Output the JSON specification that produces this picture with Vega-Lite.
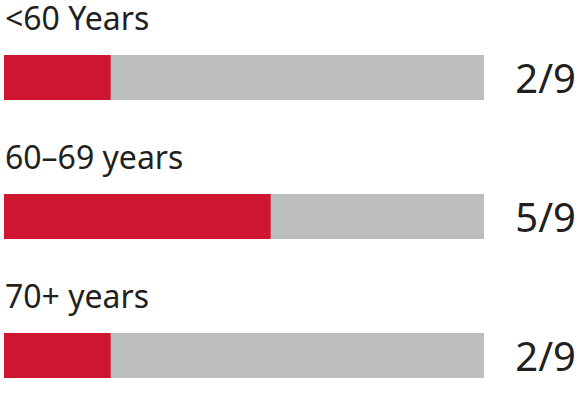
{
  "$schema": "https://vega.github.io/schema/vega-lite/v6.json",
  "width": 580,
  "height": 395,
  "autosize": "none",
  "padding": 0,
  "background": "white",
  "config": {"view": {"stroke": null}},
  "data": {"values": [
    {"group": "<60 Years", "value": 2, "total": 9, "fraction": "2/9"},
    {"group": "60–69 years", "value": 5, "total": 9, "fraction": "5/9"},
    {"group": "70+ years", "value": 2, "total": 9, "fraction": "2/9"}
  ]},
  "encoding": {
    "y": {"field": "group", "type": "nominal", "sort": null,
      "scale": {"range": [55, 378], "paddingInner": 0.676, "paddingOuter": 0},
      "axis": null}
  },
  "layer": [
    {"mark": {"type": "bar", "color": "#BCBDBF"},
     "encoding": {
       "x": {"field": "total", "type": "quantitative", "scale": {"domain": [0, 9], "range": [4, 484], "nice": false, "zero": true}, "axis": null}
     }},
    {"mark": {"type": "bar", "color": "#CE1630"},
     "encoding": {
       "x": {"field": "value", "type": "quantitative"}
     }},
    {"mark": {"type": "text", "align": "left", "baseline": "alphabetic", "dy": -47.5, "dx": 1, "font": "Noto Sans", "fontSize": 32, "color": "#231F20"},
     "encoding": {
       "x": {"datum": 0},
       "text": {"field": "group"}
     }},
    {"mark": {"type": "text", "align": "right", "baseline": "alphabetic", "dy": 15.5, "dx": 92, "font": "Noto Sans", "fontSize": 40, "color": "#231F20"},
     "encoding": {
       "x": {"field": "total", "type": "quantitative"},
       "text": {"field": "fraction"}
     }}
  ]
}
